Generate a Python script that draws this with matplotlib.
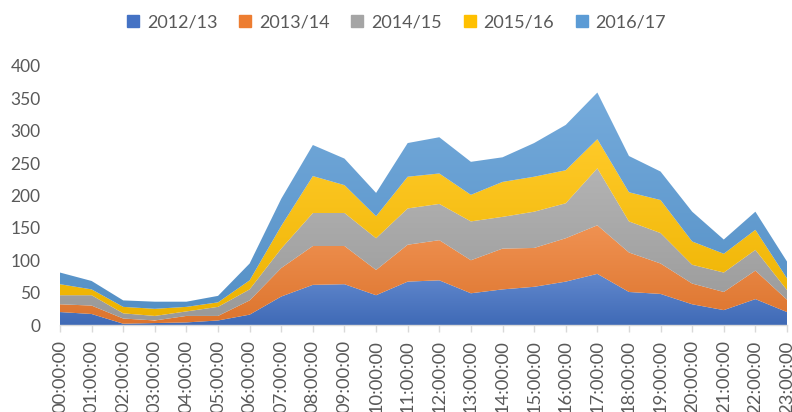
import matplotlib
matplotlib.use("Agg")
import matplotlib.pyplot as plt
import numpy as np
from matplotlib.lines import Line2D
from matplotlib.colors import to_rgb

hours = [f"{h:02d}:00:00" for h in range(24)]
series_names = ["2012/13", "2013/14", "2014/15", "2015/16", "2016/17"]
s2012 = [20, 17, 2, 3, 4, 7, 16, 44, 62, 63, 46, 67, 69, 49, 55, 59, 67, 79, 51, 48, 32, 23, 40, 20]
s2013 = [12, 13, 8, 4, 10, 7, 22, 44, 60, 59, 39, 57, 62, 51, 63, 60, 67, 75, 61, 47, 32, 28, 44, 19]
s2014 = [14, 16, 8, 7, 7, 14, 17, 30, 51, 51, 49, 56, 56, 60, 49, 56, 54, 88, 48, 47, 29, 30, 32, 15]
s2015 = [17, 9, 10, 11, 7, 7, 14, 35, 57, 43, 34, 49, 47, 41, 54, 54, 51, 45, 45, 51, 36, 29, 31, 18]
s2016 = [18, 13, 10, 11, 8, 10, 26, 42, 48, 41, 36, 52, 56, 51, 38, 52, 70, 72, 56, 44, 46, 22, 28, 26]
yticks = [0, 50, 100, 150, 200, 250, 300, 350, 400]

colors = ["#4472C4", "#ED7D31", "#A5A5A5", "#FFC000", "#5B9BD5"]
plt.rcParams['font.family'] = ['Lato', 'DejaVu Sans']
txt = "#595959"

fig = plt.figure(figsize=(7.92, 4.12), dpi=100)
ax = fig.add_axes([60/792, 1-325/412, (787-60)/792, (325-66)/412])
x = np.arange(len(hours))
data = [s2012, s2013, s2014, s2015, s2016]
polys = ax.stackplot(x, *data, colors=colors, linewidth=0)

# Excel-like vertical gradient on each layer (lighter on top, darker at bottom)
cum = np.cumsum(np.array(data, dtype=float), axis=0)
for i, (poly, c) in enumerate(zip(polys, colors)):
    base = np.array(to_rgb(c))
    top_c = base + (1 - base) * 0.16
    bot_c = base * 0.93
    lo = 0 if i == 0 else cum[i - 1].min()
    hi = cum[i].max()
    t = np.linspace(0, 1, 256)[:, None]
    grad = (bot_c[None, :] * (1 - t) + top_c[None, :] * t)[:, None, :]
    im = ax.imshow(grad, extent=[0, 23, lo, hi], origin="lower", aspect="auto",
                   interpolation="bilinear", zorder=poly.get_zorder())
    im.set_clip_path(poly.get_paths()[0], ax.transData)
    poly.set_alpha(0)

ax.set_xlim(0, 23)
ax.set_ylim(0, 400)
ax.set_yticks(yticks)
ax.set_xticks(x)
ax.set_xticklabels(hours, rotation=90, va="top", ha="center")
for s in ["top", "right", "left"]:
    ax.spines[s].set_visible(False)
ax.spines["bottom"].set_color("#D9D9D9")
ax.spines["bottom"].set_linewidth(1.0)
ax.spines["bottom"].set_zorder(5)
ax.tick_params(axis="x", colors="#D9D9D9", labelcolor=txt, length=5, width=1, labelsize=13.2, pad=6)
ax.tick_params(axis="y", length=0, labelcolor=txt, labelsize=12.5, pad=14)

handles = [Line2D([], [], marker="s", linestyle="", markersize=8, markerfacecolor=c, markeredgecolor=c) for c in colors]
fig.legend(handles, series_names, loc="center", bbox_to_anchor=(0.5, 1-22/412), ncol=5, frameon=False,
           fontsize=13, labelcolor=txt, handletextpad=0.35, columnspacing=1.15, handlelength=0.8)

fig.savefig("out.png", dpi=100)
